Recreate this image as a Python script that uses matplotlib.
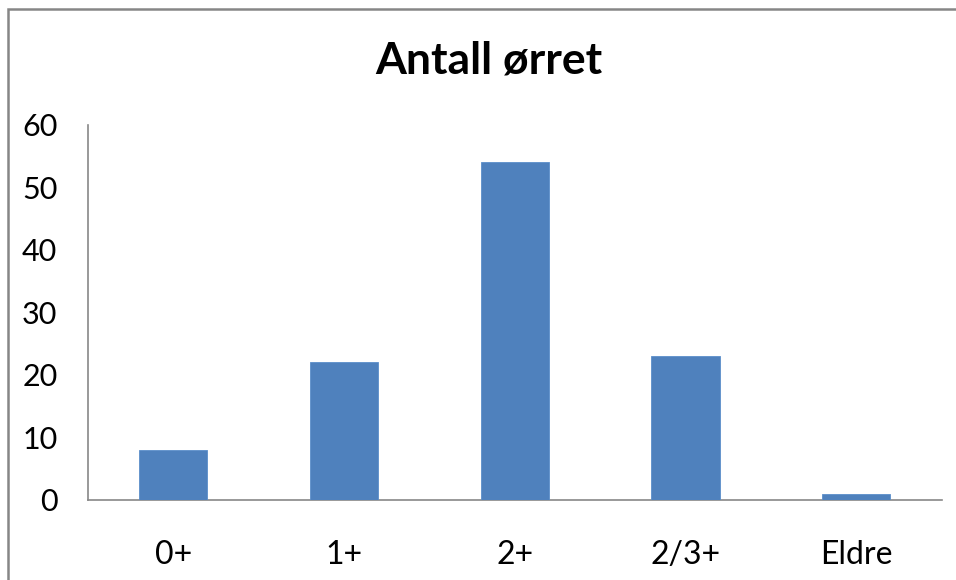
import matplotlib.pyplot as plt
from matplotlib.patches import Rectangle
import numpy as np

categories = ["0+", "1+", "2+", "2/3+", "Eldre"]
counts = [8, 22, 54, 23, 1]
y_ticks = [0, 10, 20, 30, 40, 50, 60]

plt.rcParams["font.family"] = ["Lato", "DejaVu Sans"]

fig = plt.figure(figsize=(9.56, 5.8), dpi=100)
ax = fig.add_axes([0.092, 0.138, 0.893, 0.6465])

x = np.arange(len(categories))
ax.bar(x, counts, width=0.4, color="#4F81BD", edgecolor="#5B8FCB", linewidth=0.6, zorder=3)

ax.set_xlim(-0.5, len(categories) - 0.5)
ax.set_ylim(0, 60)
ax.set_yticks(y_ticks)
ax.set_xticks(x, categories)
ax.tick_params(axis="y", length=0, pad=22, labelsize=22)
ax.tick_params(axis="x", length=0, pad=29, labelsize=23)

for side in ["top", "right"]:
    ax.spines[side].set_visible(False)
for side in ["left", "bottom"]:
    ax.spines[side].set_color("#888888")
    ax.spines[side].set_linewidth(1.2)

fig.text(0.511, 0.896, "Antall ørret", ha="center", va="center",
         fontsize=32, fontweight="bold")

# chart area frame, clipped at the right and bottom edges
fig.patches.append(Rectangle((8 / 956, -0.1), 1.1, 1 - 9 / 580 + 0.1,
                             transform=fig.transFigure, fill=False,
                             edgecolor="#868686", linewidth=1.8))

fig.savefig("out.png", dpi=100)
